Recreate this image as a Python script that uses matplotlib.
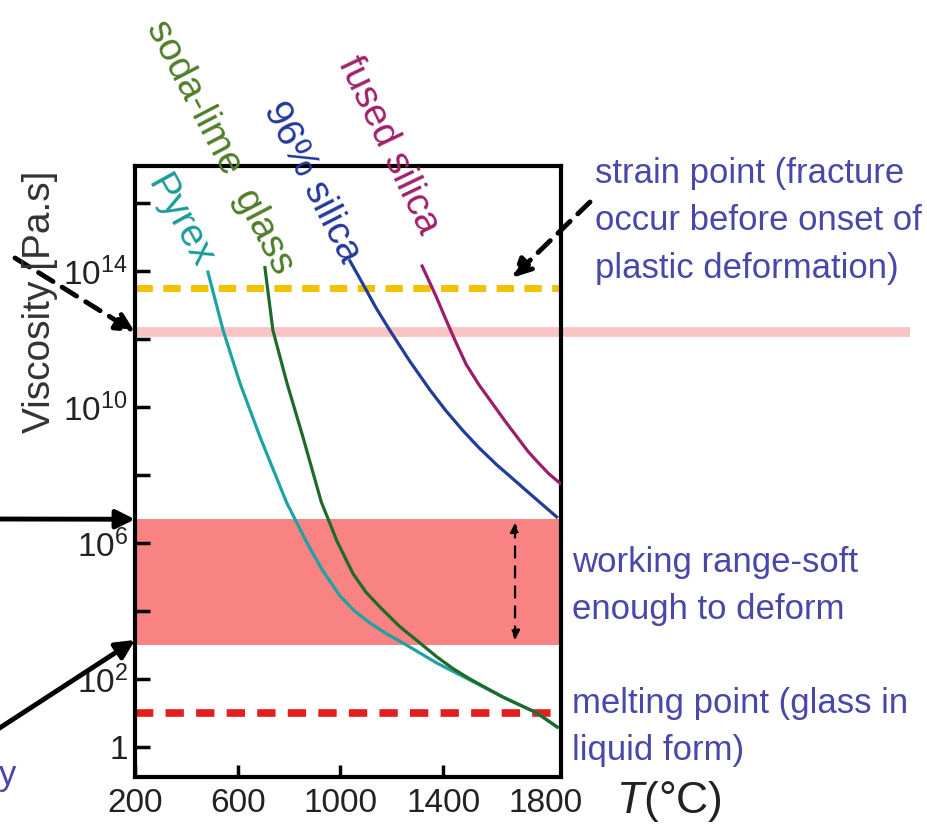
#!/usr/bin/env python3
"""Viscosity of four glasses against temperature, with the working points marked."""

import numpy as np
import matplotlib

matplotlib.use("Agg")
import matplotlib.pyplot as plt
from matplotlib.ticker import FixedLocator, FixedFormatter, NullLocator

W, H = 928, 834

# curves: temperature [deg C], log10 viscosity [Pa.s]
pyrex_T = [484, 543, 609, 687, 790, 870, 930, 998, 1055, 1115, 1180, 1244,
           1376, 1505, 1633, 1766, 1844]
pyrex_log = [13.97, 12.26, 10.7, 9.12, 7.2, 6.0, 5.2, 4.45, 4.0, 3.65, 3.33, 3.06,
             2.47, 1.97, 1.47, 1.0, 0.59]

soda_T = [706, 737, 792, 854, 925, 987, 1049, 1100, 1154, 1230, 1310, 1376,
          1440, 1505, 1633, 1766, 1844]
soda_log = [14.1, 12.26, 10.7, 9.12, 7.22, 6.05, 5.1, 4.55, 4.12, 3.55, 3.06, 2.65,
            2.3, 2.0, 1.47, 1.0, 0.59]

silica96_T = [1037, 1089, 1140, 1193, 1270, 1349, 1410, 1478, 1540, 1609, 1670,
              1738, 1842]
silica96_log = [14.3, 13.6, 12.9, 12.25, 11.35, 10.5, 9.9, 9.3, 8.8, 8.3, 7.9,
                7.45, 6.77]

fused_T = [1318, 1370, 1415, 1450, 1490, 1540, 1583, 1640, 1688, 1730, 1766,
           1810, 1855]
fused_log = [14.15, 13.3, 12.5, 11.9, 11.25, 10.65, 10.2, 9.6, 9.12, 8.7, 8.4,
             8.05, 7.76]

STRAIN_LOG = 13.5
ANNEAL_LOG = 12.2
WORK_LOG = (3.0, 6.7)
MELT_LOG = 1.0
ARROW_T = 1680  # temperature of the double arrow inside the working band

xticks = [200, 600, 1000, 1400, 1800]
ytick_log = [0, 2, 4, 6, 8, 10, 12, 14, 16]
ytick_labels = ["1", r"$\mathregular{10^{2}}$", "", r"$\mathregular{10^{6}}$", "",
                r"$\mathregular{10^{10}}$", "", r"$\mathregular{10^{14}}$", ""]

NOTE_BLUE = "#4848a8"
SANS = ["Liberation Sans", "DejaVu Sans"]

plt.rcParams["font.family"] = SANS
plt.rcParams["mathtext.fontset"] = "custom"
plt.rcParams["mathtext.rm"] = "Liberation Sans"
plt.rcParams["mathtext.it"] = "Liberation Sans:italic"


def px(x, y):
    """image pixels (origin top left) -> figure fraction"""
    return x / W, 1 - y / H


fig = plt.figure(figsize=(W / 100, H / 100), dpi=100)
left, top = px(135, 166)
right, bottom = px(561, 777)
ax = fig.add_axes([left, bottom, right - left, top - bottom])
ax.set_yscale("log")
ax.set_xlim(200, 1859)
ax.set_ylim(10 ** -0.88, 10 ** 17.09)

# working range band, annealing line, strain and melting lines
ax.axhspan(10 ** WORK_LOG[0], 10 ** WORK_LOG[1], color="#f98282", lw=0, zorder=0)
ax.plot([200, 3220], [10 ** ANNEAL_LOG] * 2, color="#f8c4c4", lw=7,
        solid_capstyle="butt", clip_on=False, zorder=1)
ax.axhline(10 ** STRAIN_LOG, color="#f2c200", lw=5, ls=(0, (2.5, 1.5)), zorder=2)
ax.axhline(10 ** MELT_LOG, color="#e41e1e", lw=5.5, ls=(0, (2.4, 1.6)), zorder=2)

curves = [
    (pyrex_T, pyrex_log, "#1ea3a3"),
    (soda_T, soda_log, "#1f6a2a"),
    (silica96_T, silica96_log, "#203d98"),
    (fused_T, fused_log, "#9a1f68"),
]
for T, lg, col in curves:
    ax.plot(T, 10 ** np.array(lg), color=col, lw=2.3, zorder=3,
            solid_joinstyle="round")

# axes styling
for sp in ax.spines.values():
    sp.set_linewidth(3)
ax.xaxis.set_major_locator(FixedLocator(xticks))
ax.xaxis.set_major_formatter(FixedFormatter([str(t) for t in xticks]))
ax.xaxis.set_minor_locator(NullLocator())
ax.xaxis.get_major_ticks()[-1].tick1line.set_visible(False)
ax.yaxis.set_major_locator(FixedLocator([10.0 ** v for v in ytick_log]))
ax.yaxis.set_major_formatter(FixedFormatter(ytick_labels))
ax.yaxis.set_minor_locator(NullLocator())
ax.tick_params(axis="x", direction="in", length=9, width=2.5, labelsize=24,
               pad=8, labelcolor="#222222")
ax.tick_params(axis="y", direction="in", length=11, width=2.5, labelsize=24,
               pad=5, labelcolor="#222222")

ax.set_xlabel(r"$\mathit{T}$(°C)", fontsize=32, color="#222222", ha="left", va="center")
ax.xaxis.set_label_coords((616 - 135) / 426, -(802 - 777) / 611)

fig.text(*px(40, 302), "Viscosity [Pa.s]", rotation=90, ha="center", va="center",
         fontsize=28, color="#333333")

# curve names
names = [
    ("Pyrex", (180, 222), -61, "#1e9a9a"),
    ("soda-lime  glass", (220, 147), -62.5, "#4f7d2a"),
    ("96% silica", (312, 182), -63, "#23389a"),
    ("fused silica", (388, 145), -64.5, "#a0206a"),
]
for txt, (x, y), rot, col in names:
    fig.text(*px(x, y), txt, rotation=rot, rotation_mode="anchor",
             ha="center", va="center", fontsize=28, color=col)

# notes on the right
note = dict(ha="left", va="top", fontsize=25, color=NOTE_BLUE, linespacing=1.55)
fig.text(*px(595, 157), "strain point (fracture\noccur before onset of\nplastic deformation)",
         **note)
fig.text(*px(572, 546), "working range-soft\nenough to deform", **note)
fig.text(*px(572, 687), "melting point (glass in\nliquid form)", **note)
fig.text(*px(8, 775), "y", ha="center", va="center", fontsize=25, color=NOTE_BLUE)

# arrows
solid = dict(arrowstyle="-|>", color="k", lw=3.5, mutation_scale=28,
             shrinkA=0, shrinkB=0)
dashed = dict(solid, ls=(0, (3.5, 2.2)))
ax.annotate("", xy=(200, 10 ** WORK_LOG[1]), xycoords="data",
            xytext=(-5, H - 519), textcoords="figure pixels",
            arrowprops=solid, annotation_clip=False)
ax.annotate("", xy=(200, 10 ** (WORK_LOG[0] + 0.15)), xycoords="data",
            xytext=(-5, H - 731), textcoords="figure pixels",
            arrowprops=solid, annotation_clip=False)
ax.annotate("", xy=(200, 10 ** ANNEAL_LOG), xycoords="data",
            xytext=(15, H - 258), textcoords="figure pixels",
            arrowprops=dashed, annotation_clip=False)
ax.annotate("", xy=(1668, 10 ** (STRAIN_LOG + 0.3)), xycoords="data",
            xytext=(590, H - 202), textcoords="figure pixels",
            arrowprops=dashed, annotation_clip=False)
ax.annotate("", xy=(ARROW_T, 10 ** (WORK_LOG[1] - 0.1)),
            xytext=(ARROW_T, 10 ** (WORK_LOG[0] + 0.15)),
            arrowprops=dict(arrowstyle="<|-|>", color="k", lw=1.6,
                            ls=(0, (5, 4)), mutation_scale=14,
                            shrinkA=0, shrinkB=0))

fig.savefig("out.png", dpi=100)
